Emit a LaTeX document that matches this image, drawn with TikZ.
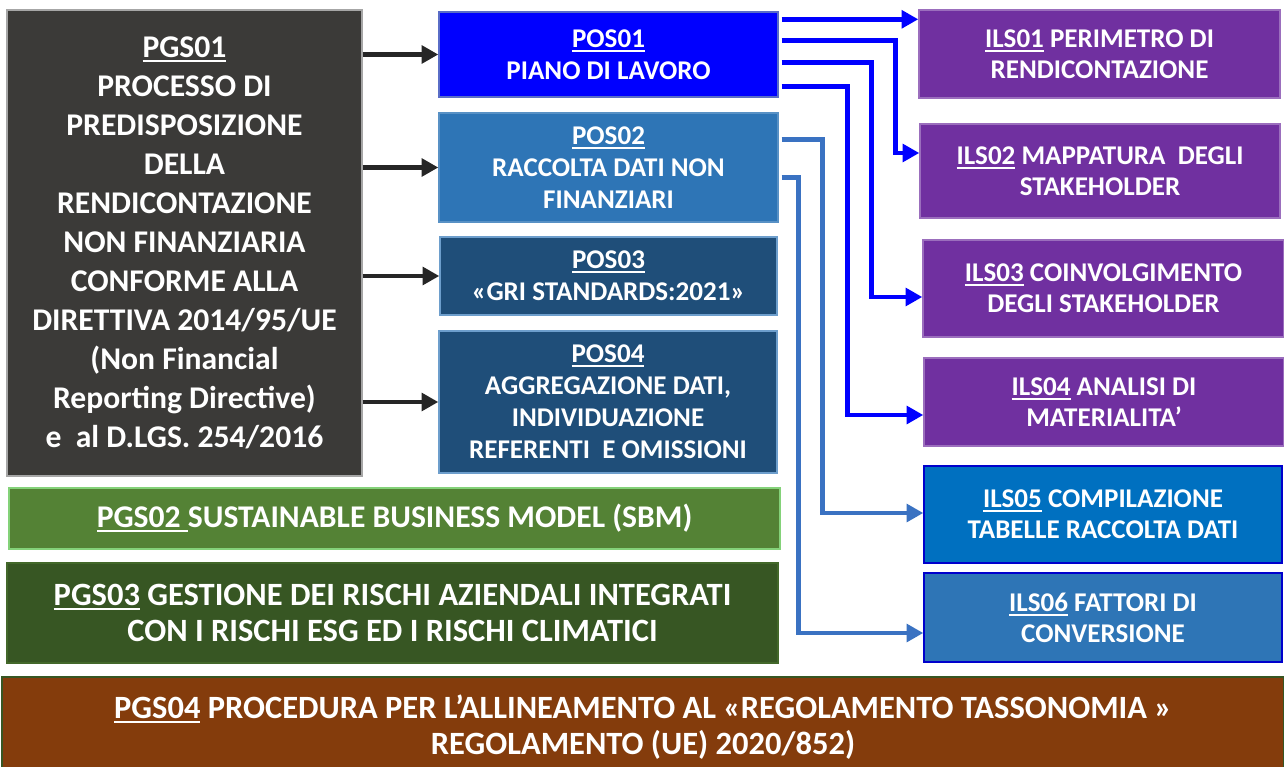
\documentclass[tikz,border=0pt]{standalone}
\usepackage{fontspec}
\setmainfont{Carlito}
\usetikzlibrary{positioning,calc,arrows.meta}

\definecolor{pgsgrey}{HTML}{3B3A38}
\definecolor{posblue}{HTML}{0000FF}
\definecolor{posmid}{HTML}{2E75B6}
\definecolor{posdark}{HTML}{1F4E79}
\definecolor{pgsgreen}{HTML}{548235}
\definecolor{pgsdark}{HTML}{375623}
\definecolor{pgsbrown}{HTML}{843C0C}
\definecolor{ilspurple}{HTML}{7030A0}
\definecolor{ilsblue}{HTML}{0070C0}
\definecolor{linkblue}{HTML}{3A72C2}
\newcommand{\code}[1]{\setbox0\hbox{#1}\rlap{\rule[-2.6pt]{\wd0}{1.1pt}}\box0\relax}

\tikzset{
    box/.style 2 args = { inner sep=0, text=white, align=center, line width=0.8pt,
        minimum width=#1*0.02cm, minimum height=#2*0.02cm, },
    big/.style = { font=\fontsize{18}{22.2}\selectfont\bfseries, },
    mid/.style = { font=\fontsize{15.4}{18.2}\selectfont\bfseries, },
    ils/.style = { font=\fontsize{15.4}{17.6}\selectfont\bfseries, fill=ilspurple, draw=ilspurple!70!white, },
    wide/.style = { font=\fontsize{18.5}{20.8}\selectfont\bfseries, },
    feed/.style = { line width=2.5pt, draw=black!85, -{Triangle[length=9.5pt,width=10pt]}, },
    link/.style = { line width=2.8pt, draw=posblue, -{Triangle[length=9.5pt,width=10pt]}, },
    sublink/.style = { link, draw=linkblue, line width=2.6pt, },
}

\begin{document}
\begin{tikzpicture}[x=0.02cm,y=-0.02cm]

    \useasboundingbox (0,0) rectangle (1284,767);

    % general procedures
    \node [box={355}{466},fill=pgsgrey,draw=gray!70,big] (pgs01) at (184.5,243)
        {\code{PGS01}\\PROCESSO DI\\PREDISPOSIZIONE\\DELLA\\RENDICONTAZIONE\\NON FINANZIARIA\\CONFORME ALLA\\DIRETTIVA 2014/95/UE\\(Non Financial\\Reporting Directive)\\e\ \ al D.LGS. 254/2016};
    \node [box={771}{61},fill=pgsgreen,draw=pgsgreen!60!green!60!white,wide,font=\fontsize{18}{20.8}\selectfont\bfseries] (pgs02) at (394.5,518.5)
        {\code{PGS02\ }SUSTAINABLE BUSINESS MODEL (SBM)};
    \node [box={771}{100},fill=pgsdark,draw=pgsgreen!80!black,wide] (pgs03) at (392.5,613)
        {\code{PGS03} GESTIONE DEI RISCHI AZIENDALI INTEGRATI\\CON I RISCHI ESG ED I RISCHI CLIMATICI};
    \node [box={1282}{100},fill=pgsbrown,draw=pgsdark,wide] (pgs04) at (643,727)
        {\code{PGS04} PROCEDURA PER L’ALLINEAMENTO AL «REGOLAMENTO TASSONOMIA »\\REGOLAMENTO (UE) 2020/852)};

    % operating procedures
    \node [box={339}{85},fill=posblue,draw=posdark!60!blue!70!white,mid] (pos01) at (608.5,54.5)
        {\code{POS01}\\PIANO DI LAVORO};
    \node [box={339}{109},fill=posmid,draw=posmid!80!white,mid] (pos02) at (608.5,167.5)
        {\code{POS02}\\RACCOLTA DATI NON\\FINANZIARI};
    \node [box={337}{78},fill=posdark,draw=posmid!70!white,mid] (pos03) at (608.5,276)
        {\code{POS03}\\«GRI STANDARDS:2021»};
    \node [box={338}{142},fill=posdark,draw=posmid!70!white,mid] (pos04) at (608,402)
        {\code{POS04}\\AGGREGAZIONE DATI,\\INDIVIDUAZIONE\\REFERENTI\ \ E OMISSIONI};

    % instructions
    \node [box={361}{88},ils] (ils01) at (1099.5,54) {\code{ILS01} PERIMETRO DI\\RENDICONTAZIONE};
    \node [box={360}{94},ils] (ils02) at (1100,171) {\code{ILS02} MAPPATURA\ \ DEGLI\\STAKEHOLDER};
    \node [box={361}{97},ils] (ils03) at (1103.5,288.5) {\code{ILS03} COINVOLGIMENTO\\DEGLI STAKEHOLDER};
    \node [box={360}{88},ils] (ils04) at (1104,402) {\code{ILS04} ANALISI DI\\MATERIALITA’};
    \node [box={358}{97},ils,fill=ilsblue,draw=blue!80!black] (ils05) at (1103,514.5)
        {\code{ILS05} COMPILAZIONE\\TABELLE RACCOLTA DATI};
    \node [box={358}{89},ils,fill=posmid,draw=blue!80!black] (ils06) at (1103,617.5)
        {\code{ILS06} FATTORI DI\\CONVERSIONE};

    % PGS01 -> POS
    \foreach \n in {1,...,4}
        \draw [feed] (pgs01.east |- pos0\n.west) -- (pos0\n.west);

    % POS -> ILS
    \coordinate (s1) at ($(pos01.north east)+(3,8)$);
    \coordinate (s2) at ($(pos01.north east)+(3,29)$);
    \coordinate (s3) at ($(pos01.north east)+(3,51)$);
    \coordinate (s4) at ($(pos01.north east)+(3,75)$);
    \coordinate (s5) at ($(pos02.north east)+(3,27)$);
    \coordinate (s6) at ($(pos02.north east)+(3,65)$);

    \draw [link] (s1) -- (s1 -| ils01.west);
    \draw [link] (s2) -| ($(ils02.west)+(-24,-18)$) -- ($(ils02.west)+(0,-18)$);
    \draw [link] (s3) -| ($(ils03.west)+(-51,8.5)$) -- ($(ils03.west)+(0,8.5)$);
    \draw [link] (s4) -| ($(ils04.west)+(-76,13)$) -- ($(ils04.west)+(0,13)$);
    \draw [sublink] (s5) -| ($(ils05.west)+(-101,-1.5)$) -- ($(ils05.west)+(0,-1.5)$);
    \draw [sublink] (s6) -| ($(ils06.west)+(-125,15.5)$) -- ($(ils06.west)+(0,15.5)$);

\end{tikzpicture}
\end{document}
